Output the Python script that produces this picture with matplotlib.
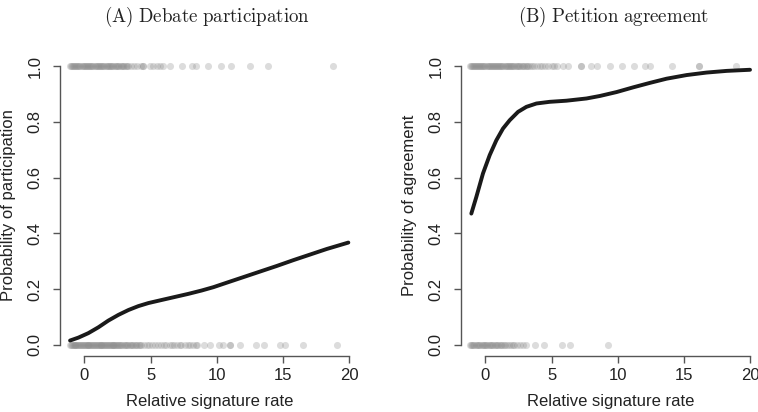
import matplotlib
matplotlib.use("Agg")
import matplotlib.pyplot as plt
import numpy as np

plt.rcParams['font.family'] = ['Liberation Sans', 'DejaVu Sans']
plt.rcParams['mathtext.fontset'] = 'cm'

# ---- data ----
panel_titles = [r"$\mathrm{(A)\ Debate\ participation}$",
                r"$\mathrm{(B)\ Petition\ agreement}$"]
ylabels = ["Probability of participation", "Probability of agreement"]
xlabel = "Relative signature rate"
xticks = [0, 5, 10, 15, 20]
yticks = [0.0, 0.2, 0.4, 0.6, 0.8, 1.0]

# (A) observed petitions: participated (1) / not participated (0)
part_yes = [-1.08, -1.0, -0.92, -0.85, -0.77, -0.7, -0.61, -0.53, -0.45, -0.38,
            -0.3, -0.21, -0.14, -0.05, 0.03, 0.12, 0.2, 0.27, 0.36, 0.44,
            0.51, 0.6, 0.68, 0.77, 0.85, 0.93, 1.02, 1.1, 1.18, 1.27,
            1.35, 1.44, 1.52, 1.6, 1.69, 1.78, 1.86, 1.95, 2.04, 2.12,
            2.2, 2.3, 2.38, 2.47, 2.56, 2.65, 2.74, 2.83, 2.92, 3.02,
            3.12, 3.22, 3.3, 3.5, 3.75, 3.97, 4.26, 4.46, 4.46, 4.96,
            5.19, 5.49, 5.72, 5.95, 6.47, 7.35, 8.1, 8.4, 9.35, 10.3,
            11.1, 12.5, 13.9, 18.8]
part_no = [-1.08, -1.02, -0.95, -0.88, -0.81, -0.74, -0.67, -0.6, -0.53, -0.46,
           -0.39, -0.32, -0.25, -0.18, -0.11, -0.04, 0.03, 0.1, 0.17, 0.24,
           0.31, 0.38, 0.45, 0.52, 0.59, 0.66, 0.73, 0.8, 0.87, 0.94,
           1.01, 1.08, 1.15, 1.22, 1.29, 1.36, 1.43, 1.5, 1.57, 1.64,
           1.71, 1.78, 1.85, 1.92, 1.99, 2.06, 2.13, 2.2, 2.27, 2.34,
           2.41, 2.48, 2.56, 2.64, 2.72, 2.8, 2.88, 2.96, 3.05, 3.14,
           3.23, 3.32, 3.41, 3.5, 3.6, 3.7, 3.8, 3.9, 4.0, 4.1,
           4.2, 4.3, 4.5, 4.7, 4.9, 5.1, 5.3, 5.6, 5.8, 6.0,
           6.2, 6.45, 6.6, 6.8, 7.0, 7.2, 7.3, 7.6, 7.8, 8.0,
           8.2, 8.4, 8.5, 9.0, 9.5, 10.2, 10.45, 11.0, 11.0, 11.75,
           13.0, 13.6, 14.8, 15.15, 16.5, 19.1]

# (B) observed petitions: agreed (1) / not agreed (0)
agree_yes = [-1.19, -1.11, -1.03, -0.95, -0.87, -0.79, -0.71, -0.63, -0.55, -0.47,
             -0.39, -0.31, -0.23, -0.15, -0.07, 0.01, 0.09, 0.17, 0.25, 0.33,
             0.41, 0.49, 0.57, 0.65, 0.73, 0.81, 0.89, 0.97, 1.05, 1.13,
             1.21, 1.29, 1.37, 1.45, 1.53, 1.61, 1.69, 1.77, 1.85, 1.93,
             2.01, 2.1, 2.19, 2.28, 2.37, 2.46, 2.55, 2.64, 2.74, 2.84,
             2.94, 3.04, 3.14, 3.25, 3.35, 3.5, 3.7, 3.9, 4.1, 4.3,
             4.5, 4.75, 5.0, 5.2, 5.4, 5.9, 6.25, 7.25, 7.25, 8.0,
             8.4, 9.4, 10.3, 11.2, 12.05, 12.4, 14.1, 16.1, 16.1, 18.9]
agree_no = [-1.19, -1.1, -1.01, -0.92, -0.83, -0.74, -0.65, -0.56, -0.47, -0.38,
            -0.29, -0.2, -0.11, -0.02, 0.07, 0.16, 0.25, 0.34, 0.43, 0.52,
            0.61, 0.7, 0.79, 0.88, 0.97, 1.07, 1.17, 1.28, 1.39, 1.5,
            1.62, 1.75, 1.9, 2.05, 2.2, 2.4, 2.6, 2.85, 3.1, 3.73,
            4.41, 5.82, 6.38, 9.23]

# fitted curves
fit_a_x = [-1.08, -0.45, 0.30, 1.06, 1.81, 2.57, 3.33, 4.08, 4.84, 5.84,
           6.85, 7.86, 8.86, 9.75, 10.75, 12.01, 13.27, 14.53, 15.79, 17.05,
           18.31, 19.94]
fit_a_y = [0.0155, 0.026, 0.042, 0.063, 0.087, 0.1075, 0.125, 0.139, 0.150, 0.161,
           0.172, 0.183, 0.195, 0.207, 0.223, 0.243, 0.263, 0.283, 0.304, 0.324,
           0.344, 0.367]
fit_b_x = [-1.06, -0.68, -0.18, 0.33, 0.83, 1.33, 1.84, 2.47, 3.10, 3.86,
           4.86, 6.12, 7.64, 8.65, 9.91, 11.17, 12.43, 13.69, 15.2, 16.71,
           18.23, 19.99]
fit_b_y = [0.471, 0.531, 0.615, 0.681, 0.734, 0.776, 0.806, 0.836, 0.854, 0.866,
           0.872, 0.876, 0.884, 0.893, 0.907, 0.924, 0.940, 0.955, 0.968, 0.977,
           0.983, 0.987]

panels = [
    (part_yes, part_no, fit_a_x, fit_a_y),
    (agree_yes, agree_no, fit_b_x, fit_b_y),
]

W, H = 758, 412
fig = plt.figure(figsize=(W / 100, H / 100), dpi=100)

# axes boxes in pixels: (left, top, right, bottom)
boxes = [(60, 55, 360, 356), (461, 55, 761, 356)]
title_x = [207, 614]

for i, (yes, no, fx, fy) in enumerate(panels):
    l, t, r, b = boxes[i]
    ax = fig.add_axes([l / W, 1 - b / H, (r - l) / W, (b - t) / H])
    ax.set_xlim(-1.84, 20.82)
    ax.set_ylim(-0.04, 1.04)

    ax.scatter(yes, np.ones(len(yes)), s=26, color='#8c8c8c', alpha=0.3,
               linewidths=0, zorder=2)
    ax.scatter(no, np.zeros(len(no)), s=26, color='#8c8c8c', alpha=0.3,
               linewidths=0, zorder=2)
    ax.plot(fx, fy, color='#1a1a1a', lw=2.8, solid_capstyle='round',
            solid_joinstyle='round', zorder=3)

    for side in ['top', 'right']:
        ax.spines[side].set_visible(False)
    ax.spines['left'].set_bounds(0, 1)
    ax.spines['bottom'].set_bounds(0, 20)
    for side in ['left', 'bottom']:
        ax.spines[side].set_color('#555555')
        ax.spines[side].set_linewidth(1.0)

    ax.set_xticks(xticks)
    ax.set_yticks(yticks)
    ax.set_yticklabels([f"{v:.1f}" for v in yticks], rotation=90, va='center')
    ax.tick_params(axis='both', length=5, width=1.0, color='#555555',
                   labelsize=12, labelcolor='#222222')
    ax.tick_params(axis='y', pad=7.5)
    ax.tick_params(axis='x', pad=4)

    ax.set_xlabel(xlabel, fontsize=12, color='#222222')
    ax.set_ylabel(ylabels[i], fontsize=12, color='#222222')
    ax.xaxis.set_label_coords(0.5, -0.125)
    ax.yaxis.set_label_coords(-0.148, 0.5)

    fig.text(title_x[i] / W, 1 - 17 / H, panel_titles[i], ha='center',
             va='center', fontsize=13.6, color='#222222')

fig.savefig('out.png', dpi=100)
